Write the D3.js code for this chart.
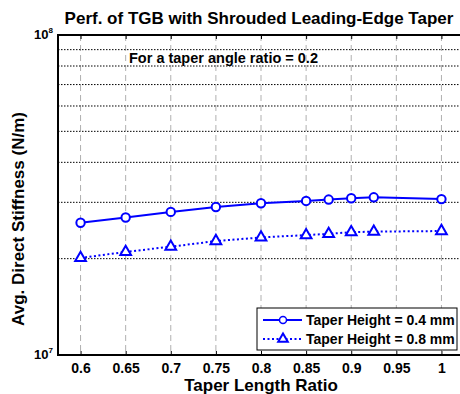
<!DOCTYPE html>
<html>
<head>
<meta charset="utf-8">
<script src="https://cdn.jsdelivr.net/npm/d3@7"></script>
<style>
  body { margin: 0; background: #fff; }
  text { font-family: "Liberation Sans", Arial, sans-serif; font-weight: bold; }
</style>
</head>
<body>
<script>
  // values
  const taperRatio = [0.6, 0.65, 0.7, 0.75, 0.8, 0.85, 0.875, 0.9, 0.925, 1.0]
  const height04 = [2.59e7, 2.69e7, 2.80e7, 2.90e7, 2.98e7, 3.03e7, 3.06e7, 3.09e7, 3.11e7, 3.07e7]
  const height08 = [2.01e7, 2.10e7, 2.18e7, 2.27e7, 2.33e7, 2.37e7, 2.39e7, 2.42e7, 2.43e7, 2.44e7]
  const xTicks = [0.6, 0.65, 0.7, 0.75, 0.8, 0.85, 0.9, 0.95, 1]
  const yGrid = [2e7, 3e7, 4e7, 5e7, 6e7, 7e7, 8e7, 9e7]
  const yTickExp = [7, 8]
  const legendLabels = ["Taper Height = 0.4 mm", "Taper Height = 0.8 mm"]

  ;(function () {
  const W = 460, H = 394
  const left = 58, right = 464, top = 35, bottom = 355

  const svg = d3.select("body").append("svg")
      .attr("width", W)
      .attr("height", H)

  const x = d3.scaleLinear().domain([0.575, 1.025]).range([left, right])
  const y = d3.scaleLog().domain([1e7, 1e8]).range([bottom, top])

  // grid
  svg.append("g").selectAll("line").data(xTicks).enter().append("line")
      .attr("x1", d => x(d)).attr("x2", d => x(d))
      .attr("y1", top).attr("y2", bottom)
      .attr("stroke", "#b0b0b0").attr("stroke-width", 1)
      .attr("stroke-dasharray", "6,4")

  svg.append("g").selectAll("line").data(yGrid).enter().append("line")
      .attr("x1", left).attr("x2", right)
      .attr("y1", d => y(d)).attr("y2", d => y(d))
      .attr("stroke", "#000").attr("stroke-width", 1)
      .attr("stroke-dasharray", "1.5,1.5")

  // axes
  const xAxis = svg.append("g")
      .attr("transform", "translate(0," + bottom + ")")
      .call(d3.axisBottom(x).tickValues(xTicks).tickSize(-4).tickPadding(8).tickFormat(d3.format("")))
  xAxis.select(".domain").remove()
  xAxis.selectAll("text").attr("font-size", 14).attr("fill", "#000")
      .attr("font-family", "Liberation Sans, Arial, sans-serif").attr("font-weight", "bold")
  xAxis.selectAll("line").attr("stroke", "#000")

  const xTop = svg.append("g")
      .attr("transform", "translate(0," + top + ")")
      .call(d3.axisTop(x).tickValues(xTicks).tickSize(-4).tickFormat(""))
  xTop.select(".domain").remove()

  svg.append("rect")
      .attr("x", left).attr("y", top)
      .attr("width", right - left).attr("height", bottom - top)
      .attr("fill", "none").attr("stroke", "#000").attr("stroke-width", 2)

  // y tick labels as 10^n
  const yl = svg.append("g").selectAll("text").data(yTickExp).enter().append("text")
      .attr("x", left - 5)
      .attr("y", d => y(Math.pow(10, d)) + 4)
      .attr("text-anchor", "end")
      .attr("font-size", 13)
  yl.append("tspan").text("10")
  yl.append("tspan").attr("dy", -6).attr("font-size", 8).text(d => d)

  // lines
  const line04 = d3.line().x((d, i) => x(taperRatio[i])).y(d => y(d))
  const blue = "#0000ff"

  svg.append("path").datum(height04)
      .attr("d", line04)
      .attr("fill", "none").attr("stroke", blue).attr("stroke-width", 2)
  svg.append("path").datum(height08)
      .attr("d", line04)
      .attr("fill", "none").attr("stroke", blue).attr("stroke-width", 2)
      .attr("stroke-dasharray", "2,2.5")

  const tri = d3.symbol().type(d3.symbolTriangle).size(50)

  svg.append("g").selectAll("circle").data(height04).enter().append("circle")
      .attr("cx", (d, i) => x(taperRatio[i])).attr("cy", d => y(d))
      .attr("r", 4.2)
      .attr("fill", "#fff").attr("stroke", blue).attr("stroke-width", 2)

  svg.append("g").selectAll("path").data(height08).enter().append("path")
      .attr("d", tri)
      .attr("transform", (d, i) => "translate(" + x(taperRatio[i]) + "," + y(d) + ")")
      .attr("fill", "#fff").attr("stroke", blue).attr("stroke-width", 2)

  // annotation
  svg.append("text")
      .attr("x", 129).attr("y", 63)
      .attr("font-size", 14.5)
      .text("For a taper angle ratio = 0.2")

  // legend
  const lg = svg.append("g")
  lg.append("rect")
      .attr("x", 257).attr("y", 308)
      .attr("width", 200).attr("height", 42)
      .attr("fill", "#fff").attr("stroke", "#000").attr("stroke-width", 1)
  const rows = [320, 339]
  lg.append("line").attr("x1", 263).attr("x2", 302).attr("y1", rows[0]).attr("y2", rows[0])
      .attr("stroke", blue).attr("stroke-width", 2)
  lg.append("circle").attr("cx", 283).attr("cy", rows[0]).attr("r", 3.5)
      .attr("fill", "#fff").attr("stroke", blue).attr("stroke-width", 1.5)
  lg.append("line").attr("x1", 263).attr("x2", 302).attr("y1", rows[1]).attr("y2", rows[1])
      .attr("stroke", blue).attr("stroke-width", 2).attr("stroke-dasharray", "2,2.5")
  lg.append("path").attr("d", d3.symbol().type(d3.symbolTriangle).size(40))
      .attr("transform", "translate(283," + rows[1] + ")")
      .attr("fill", "#fff").attr("stroke", blue).attr("stroke-width", 2)
  lg.selectAll("text.lab").data(legendLabels).enter().append("text")
      .attr("class", "lab")
      .attr("x", 306).attr("y", (d, i) => rows[i] + 5)
      .attr("font-size", 14)
      .text(d => d)

  // titles
  svg.append("text")
      .attr("x", 259).attr("y", 24)
      .attr("text-anchor", "middle")
      .attr("font-size", 17)
      .text("Perf. of TGB with Shrouded Leading-Edge Taper")

  svg.append("text")
      .attr("x", 261).attr("y", 391)
      .attr("text-anchor", "middle")
      .attr("font-size", 17)
      .text("Taper Length Ratio")

  svg.append("text")
      .attr("transform", "translate(24,219) rotate(-90)")
      .attr("text-anchor", "middle")
      .attr("font-size", 17)
      .text("Avg. Direct Stiffness (N/m)")
  })()
</script>
</body>
</html>
